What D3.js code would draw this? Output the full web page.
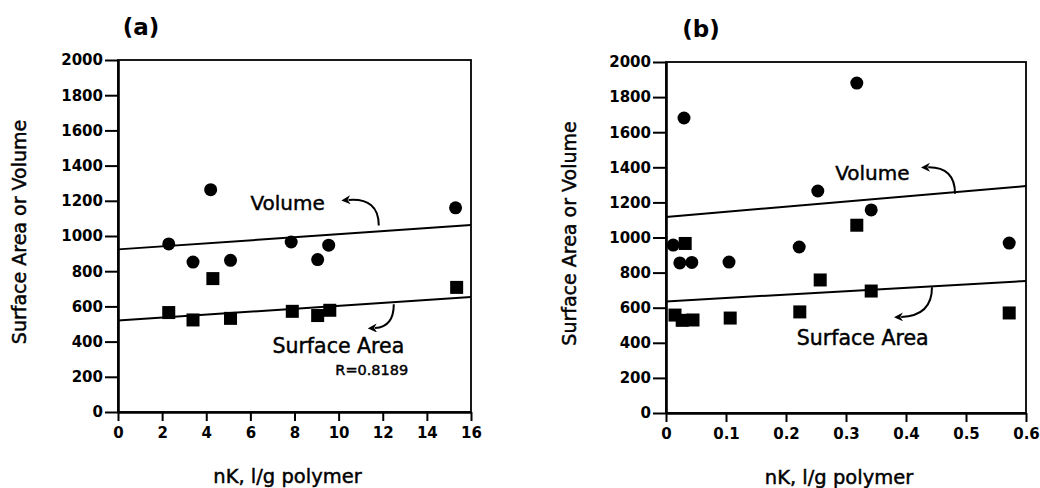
<!DOCTYPE html>
<html>
<head>
<meta charset="utf-8">
<script src="https://cdn.jsdelivr.net/npm/d3@7"></script>
<style>
  body { margin: 0; background: #fff; }
  text { font-family: "DejaVu Sans", sans-serif; fill: #000; }
  .heavy { stroke: #000; stroke-width: 0.45px; }
</style>
</head>
<body>
<div id="chart"></div>
<script>
// ---- data ----
// panel (a): nK 0..16
var volA_x = [2.3, 3.4, 4.2, 5.1, 7.85, 9.05, 9.55, 15.3];
var volA_y = [955, 852, 1263, 862, 966, 866, 948, 1160];
var surfA_x = [2.3, 3.4, 4.3, 5.1, 7.9, 9.05, 9.6, 15.35];
var surfA_y = [565, 523, 758, 532, 572, 548, 578, 708];
var fitA_vol = [[0, 924], [16, 1062]];
var fitA_surf = [[0, 520], [16, 653]];

// panel (b): nK 0..0.6
var volB_x = [0.012, 0.03, 0.023, 0.043, 0.105, 0.222, 0.253, 0.318, 0.342, 0.572];
var volB_y = [957, 1681, 855, 858, 860, 946, 1265, 1880, 1157, 968];
var surfB_x = [0.015, 0.032, 0.027, 0.045, 0.107, 0.223, 0.257, 0.318, 0.342, 0.572];
var surfB_y = [558, 966, 528, 530, 541, 576, 758, 1070, 695, 570];
var fitB_vol = [[0, 1117], [0.6, 1293]];
var fitB_surf = [[0, 636], [0.6, 752]];

var yTicks = [0, 200, 400, 600, 800, 1000, 1200, 1400, 1600, 1800, 2000];
var xTicksA = [0, 2, 4, 6, 8, 10, 12, 14, 16];
var xTicksB = [0, 0.1, 0.2, 0.3, 0.4, 0.5, 0.6];

var yTitle = 'Surface Area or Volume';
var xTitle = 'nK, l/g polymer';

var svg = d3.select('#chart').append('svg')
    .attr('width', 1040)
    .attr('height', 488);

svg.append('defs').append('marker')
    .attr('id', 'head')
    .attr('viewBox', '0 0 10 10')
    .attr('refX', 2).attr('refY', 5)
    .attr('markerWidth', 9).attr('markerHeight', 9)
    .attr('markerUnits', 'userSpaceOnUse')
    .attr('orient', 'auto')
    .append('path')
    .attr('d', 'M0,5 L10,0 L7,5 L10,10 Z')
    .attr('transform', 'rotate(180,5,5)')
    .attr('fill', '#000');

function panel(opt) {
    var w = opt.width, h = opt.height;
    var g = svg.append('g')
        .attr('transform', 'translate(' + opt.left + ',' + opt.top + ')');

    var x = d3.scaleLinear().domain(opt.xDomain).range([0, w]);
    var y = d3.scaleLinear().domain([0, 2000]).range([h, 0]);

    // box
    g.append('rect')
        .attr('width', w).attr('height', h)
        .attr('fill', 'none')
        .attr('stroke', '#000')
        .attr('stroke-width', 1.8);

    var yAxis = d3.axisLeft(y).tickValues(yTicks).tickSize(13).tickPadding(2)
        .tickSizeOuter(0).tickFormat(d3.format('d'));
    var xAxis = d3.axisBottom(x).tickValues(opt.xTicks).tickSize(9).tickPadding(6)
        .tickSizeOuter(0).tickFormat(opt.xFormat);

    var ya = g.append('g').call(yAxis);
    var xa = g.append('g').attr('transform', 'translate(0,' + h + ')').call(xAxis);
    [ya, xa].forEach(function (a) {
        a.select('.domain').attr('stroke-width', 2.6);
        a.selectAll('.tick line').attr('stroke-width', 2);
        a.selectAll('.tick text')
            .style('font-family', '"DejaVu Sans", sans-serif')
            .style('font-size', '15px')
            .style('font-weight', 'bold')
            .attr('fill', '#000');
    });

    // fit lines
    var line = d3.line().x(d => x(d[0])).y(d => y(d[1]));
    [opt.fitVol, opt.fitSurf].forEach(function (f) {
        g.append('path').datum(f)
            .attr('d', line)
            .attr('fill', 'none')
            .attr('stroke', '#000')
            .attr('stroke-width', 2);
    });

    // points
    var vol = opt.volX.map((v, i) => [v, opt.volY[i]]);
    var surf = opt.surfX.map((v, i) => [v, opt.surfY[i]]);
    g.selectAll('circle.vol').data(vol).enter().append('circle')
        .attr('class', 'vol')
        .attr('cx', d => x(d[0]))
        .attr('cy', d => y(d[1]))
        .attr('r', 6.5)
        .attr('fill', '#000');
    g.selectAll('rect.surf').data(surf).enter().append('rect')
        .attr('class', 'surf')
        .attr('x', d => x(d[0]) - 6.5)
        .attr('y', d => y(d[1]) - 6.5)
        .attr('width', 13).attr('height', 13)
        .attr('fill', '#000');

    // curved arrows: [start, control, end] in data units
    opt.arrows.forEach(function (a) {
        var p = d3.path();
        p.moveTo(x(a[0][0]), y(a[0][1]));
        p.quadraticCurveTo(x(a[1][0]), y(a[1][1]), x(a[2][0]), y(a[2][1]));
        g.append('path')
            .attr('d', p.toString())
            .attr('fill', 'none')
            .attr('stroke', '#000')
            .attr('stroke-width', 2)
            .attr('marker-end', 'url(#head)');
    });

    // annotation labels
    opt.labels.forEach(function (l) {
        g.append('text')
            .attr('class', 'heavy')
            .attr('x', x(l.x)).attr('y', y(l.y))
            .attr('dy', '0.36em')
            .style('font-size', l.size + 'px')
            .text(l.text);
    });

    // panel title
    g.append('text')
        .attr('x', opt.titleX).attr('y', -25)
        .attr('text-anchor', 'middle')
        .style('font-size', '23px')
        .style('font-weight', 'bold')
        .text(opt.title);

    // axis titles
    g.append('text')
        .attr('class', 'heavy')
        .attr('transform', 'translate(' + opt.yTitleX + ',' + (h / 2 - 4) + ') rotate(-90)')
        .attr('text-anchor', 'middle')
        .attr('dy', '0.36em')
        .style('font-size', '19px')
        .text(yTitle);
    g.append('text')
        .attr('class', 'heavy')
        .attr('x', w / 2 - 7).attr('y', h + 71)
        .attr('text-anchor', 'middle')
        .style('font-size', '19.5px')
        .text(xTitle);
}

panel({
    left: 118, top: 60, width: 353, height: 352,
    xDomain: [0, 16], xTicks: xTicksA, xFormat: d3.format('d'),
    volX: volA_x, volY: volA_y, surfX: surfA_x, surfY: surfA_y,
    fitVol: fitA_vol, fitSurf: fitA_surf,
    arrows: [
        [[11.82, 1060], [11.82, 1218], [10.45, 1205]],
        [[12.5, 612], [12.5, 483], [11.65, 477]]
    ],
    labels: [
        { x: 6.0, y: 1187, text: 'Volume', size: 20 },
        { x: 7.0, y: 375, text: 'Surface Area', size: 20.5 },
        { x: 9.85, y: 239, text: 'R=0.8189', size: 14.5 }
    ],
    title: '(a)', titleX: 23, yTitleX: -99
});

panel({
    left: 666, top: 62, width: 360, height: 351,
    xDomain: [0, 0.6], xTicks: xTicksB, xFormat: d3.format('.1~f'),
    volX: volB_x, volY: volB_y, surfX: surfB_x, surfY: surfB_y,
    fitVol: fitB_vol, fitSurf: fitB_surf,
    arrows: [
        [[0.4817, 1250], [0.4817, 1402], [0.437, 1400]],
        [[0.4433, 716], [0.4433, 553], [0.392, 547]]
    ],
    labels: [
        { x: 0.282, y: 1367, text: 'Volume', size: 20 },
        { x: 0.218, y: 427, text: 'Surface Area', size: 20.5 }
    ],
    title: '(b)', titleX: 35, yTitleX: -97
});
</script>
</body>
</html>
